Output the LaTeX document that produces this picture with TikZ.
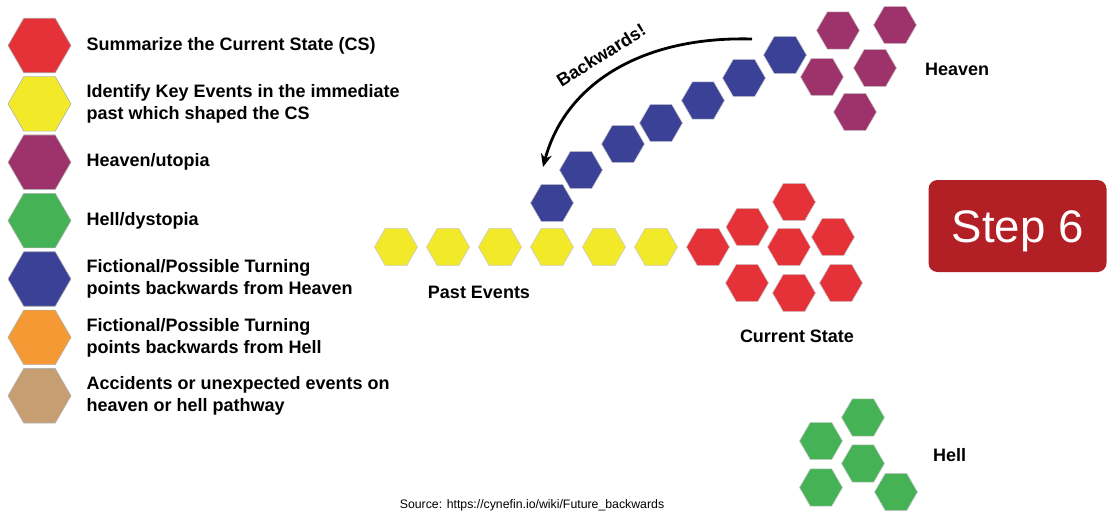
\documentclass[tikz,border=0pt]{standalone}
\usepackage{fontspec}
\setmainfont{Liberation Sans}
\usetikzlibrary{shapes.geometric, arrows.meta, positioning}
\definecolor{csred}{RGB}{228,50,56}
\definecolor{keyyellow}{RGB}{242,233,40}
\definecolor{heavenpurple}{RGB}{158,50,106}
\definecolor{hellgreen}{RGB}{68,178,85}
\definecolor{turnblue}{RGB}{59,65,151}
\definecolor{turnorange}{RGB}{244,153,52}
\definecolor{accidenttan}{RGB}{199,158,113}
\definecolor{stepred}{RGB}{178,32,38}

\begin{document}
\begin{tikzpicture}[
    x=1pt, y=-1pt,
    hexbig/.style={regular polygon, regular polygon sides=6, minimum size=63pt, inner sep=0pt, draw=black!30, line width=0.6pt},
    hexsmall/.style={regular polygon, regular polygon sides=6, minimum size=43pt, inner sep=0pt, draw=black!20, line width=0.6pt},
    legendtext/.style={inner sep=0pt, align=left, font=\fontsize{18}{22}\selectfont\bfseries},
    areatext/.style={inner sep=0pt, font=\fontsize{18}{22}\selectfont\bfseries},
    stepbox/.style={rectangle, fill=stepred, rounded corners=9pt, minimum width=178pt, minimum height=92pt, text=white, font=\fontsize{45.6}{50}\selectfont, text height=32.7pt, text depth=0pt},
    arrow/.style={-{Stealth[length=13pt, width=11pt]}, line width=2.8pt}
]
\useasboundingbox (0,0) rectangle (1107,512);

% Legend
\node[hexbig, fill=csred] (leg_cs) at (39.5,45.5) {};
\node[hexbig, fill=keyyellow, below=3.2pt of leg_cs] (leg_key) {};
\node[hexbig, fill=heavenpurple, below=3.2pt of leg_key] (leg_heaven) {};
\node[hexbig, fill=hellgreen, below=3.2pt of leg_heaven] (leg_hell) {};
\node[hexbig, fill=turnblue, below=3.2pt of leg_hell] (leg_turnheaven) {};
\node[hexbig, fill=turnorange, below=3.2pt of leg_turnheaven] (leg_turnhell) {};
\node[hexbig, fill=accidenttan, below=3.2pt of leg_turnhell] (leg_accident) {};

\node[legendtext, right=15pt of leg_cs] (txt_cs) {Summarize the Current State (CS)};
\node[legendtext, right=15pt of leg_key] (txt_key) {Identify Key Events in the immediate\\past which shaped the CS};
\node[legendtext, right=15pt of leg_heaven] (txt_heaven) {Heaven/utopia};
\node[legendtext, right=15pt of leg_hell] (txt_hell) {Hell/dystopia};
\node[legendtext, right=15pt of leg_turnheaven] (txt_turnheaven) {Fictional/Possible Turning\\points backwards from Heaven};
\node[legendtext, right=15pt of leg_turnhell] (txt_turnhell) {Fictional/Possible Turning\\points backwards from Hell};
\node[legendtext, right=15pt of leg_accident] (txt_accident) {Accidents or unexpected events on\\heaven or hell pathway};

% Past events
\node[hexsmall, fill=keyyellow] (past1) at (396,247) {};
\node[hexsmall, fill=keyyellow, right=8.3pt of past1] (past2) {};
\node[hexsmall, fill=keyyellow, right=8.3pt of past2] (past3) {};
\node[hexsmall, fill=keyyellow, right=8.3pt of past3] (past4) {};
\node[hexsmall, fill=keyyellow, right=8.3pt of past4] (past5) {};
\node[hexsmall, fill=keyyellow, right=8.3pt of past5] (past6) {};

% Current state
\node[hexsmall, fill=csred] (cs1) at (708,247) {};
\node[hexsmall, fill=csred] (cs2) at (747.5,227) {};
\node[hexsmall, fill=csred] (cs3) at (794,202) {};
\node[hexsmall, fill=csred] (cs4) at (789,247) {};
\node[hexsmall, fill=csred] (cs5) at (833,237) {};
\node[hexsmall, fill=csred] (cs6) at (747,283) {};
\node[hexsmall, fill=csred] (cs7) at (794,293) {};
\node[hexsmall, fill=csred] (cs8) at (841,283) {};

% Turning points back from heaven
\node[hexsmall, fill=turnblue] (turn1) at (552,203) {};
\node[hexsmall, fill=turnblue] (turn2) at (581,170) {};
\node[hexsmall, fill=turnblue] (turn3) at (623,144) {};
\node[hexsmall, fill=turnblue] (turn4) at (661,123) {};
\node[hexsmall, fill=turnblue] (turn5) at (703,100.5) {};
\node[hexsmall, fill=turnblue] (turn6) at (744,78) {};
\node[hexsmall, fill=turnblue] (turn7) at (785,55) {};

% Heaven
\node[hexsmall, fill=heavenpurple] (heaven1) at (838,30.5) {};
\node[hexsmall, fill=heavenpurple] (heaven2) at (895,25) {};
\node[hexsmall, fill=heavenpurple] (heaven3) at (822,77) {};
\node[hexsmall, fill=heavenpurple] (heaven4) at (875,68) {};
\node[hexsmall, fill=heavenpurple] (heaven5) at (855,112) {};

% Hell
\node[hexsmall, fill=hellgreen] (hell1) at (863,417.5) {};
\node[hexsmall, fill=hellgreen] (hell2) at (821,441) {};
\node[hexsmall, fill=hellgreen] (hell3) at (863,463.5) {};
\node[hexsmall, fill=hellgreen] (hell4) at (821,487.5) {};
\node[hexsmall, fill=hellgreen] (hell5) at (896,492) {};

% Area labels
\node[areatext, anchor=west] (lbl_heaven) at (925,69) {Heaven};
\node[areatext] (lbl_past) at (479,292) {Past Events};
\node[areatext] (lbl_cs) at (797,336) {Current State};
\node[areatext, anchor=west] (lbl_hell) at (933,455) {Hell};
\node[areatext, rotate=32] (lbl_back) at (601,55) {Backwards!};

% Step box
\node[stepbox] (step) at (1017.5,226) {Step 6};

% Backwards arrow
\coordinate (arrowstart) at (752,39);
\coordinate (arrowend) at (543,167);
\draw[arrow] (arrowstart) .. controls (640,36) and (565,85) .. (arrowend);

% Source
\node[inner sep=0pt, font=\fontsize{12.3}{14}\selectfont] (source) at (532,505) {Source: https://cynefin.io/wiki/Future\_backwards};

\end{tikzpicture}
\end{document}
